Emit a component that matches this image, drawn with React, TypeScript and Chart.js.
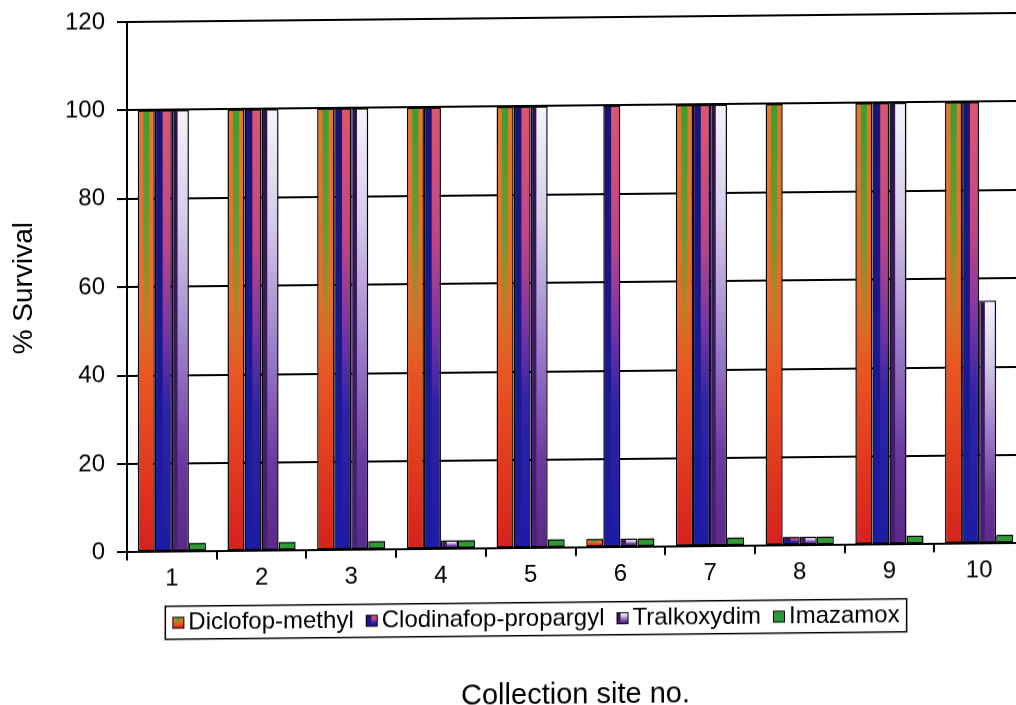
import React, { useEffect, useRef } from 'react';
import { Chart, registerables } from 'chart.js';

Chart.register(...registerables);

// Survival (%) of each collection site after each herbicide treatment
const sites = ['1', '2', '3', '4', '5', '6', '7', '8', '9', '10'];
const diclofopMethyl = [100, 100, 100, 100, 100, 2, 100, 100, 100, 100];
const clodinafopPropargyl = [100, 100, 100, 100, 100, 100, 100, 2, 100, 100];
const tralkoxydim = [100, 100, 100, 2, 100, 2, 100, 2, 100, 55];
const imazamox = [2, 2, 2, 2, 2, 2, 2, 2, 2, 2];
const seriesNames = ['Diclofop-methyl', 'Clodinafop-propargyl', 'Tralkoxydim', 'Imazamox'];
const yMin = 0;
const yMax = 120;
const yStep = 20;

const FONT = '"Liberation Sans", Arial, sans-serif';
const LEGEND_SHIFT_X = 24;

type Painter = (ctx: CanvasRenderingContext2D, l: number, t: number, w: number, h: number) => void;

const paintDiclofop: Painter = (ctx, l, t, w, h) => {
  const g = ctx.createLinearGradient(0, t, 0, t + h);
  g.addColorStop(0, '#e3782c');
  g.addColorStop(0.45, '#ee6a24');
  g.addColorStop(0.75, '#e4421f');
  g.addColorStop(1, '#d6221d');
  ctx.fillStyle = g;
  ctx.fillRect(l, t, w, h);
  const s = ctx.createLinearGradient(0, t, 0, t + h);
  s.addColorStop(0, 'rgba(60,158,48,1)');
  s.addColorStop(0.3, 'rgba(92,160,50,0.85)');
  s.addColorStop(0.6, 'rgba(130,150,50,0)');
  ctx.fillStyle = s;
  ctx.fillRect(l + w * 0.28, t, w * 0.44, h);
};

const paintClodinafop: Painter = (ctx, l, t, w, h) => {
  const g = ctx.createLinearGradient(0, t, 0, t + h);
  g.addColorStop(0, '#dc5670');
  g.addColorStop(0.3, '#c04486');
  g.addColorStop(0.5, '#7a34a4');
  g.addColorStop(0.68, '#2e22a6');
  g.addColorStop(1, '#1c1ca4');
  ctx.fillStyle = g;
  ctx.fillRect(l, t, w, h);
  const s = ctx.createLinearGradient(0, t, 0, t + h);
  s.addColorStop(0, '#181472');
  s.addColorStop(1, '#1c1ca4');
  ctx.fillStyle = s;
  ctx.fillRect(l, t, w * 0.45, h);
};

const paintTralkoxydim: Painter = (ctx, l, t, w, h) => {
  const g = ctx.createLinearGradient(0, t, 0, t + h);
  g.addColorStop(0, '#f5f3fb');
  g.addColorStop(0.25, '#d6cbe8');
  g.addColorStop(0.55, '#9a7cc8');
  g.addColorStop(0.8, '#6a3a9e');
  g.addColorStop(1, '#5a2a88');
  ctx.fillStyle = g;
  ctx.fillRect(l, t, w, h);
  const s = ctx.createLinearGradient(0, t, 0, t + h);
  s.addColorStop(0, '#2c1048');
  s.addColorStop(1, '#4a2078');
  ctx.fillStyle = s;
  ctx.fillRect(l, t, w * 0.3, h);
};

const paintImazamox: Painter = (ctx, l, t, w, h) => {
  ctx.fillStyle = '#2f9a36';
  ctx.fillRect(l, t, w, h);
};

const painters: Painter[] = [paintDiclofop, paintClodinafop, paintTralkoxydim, paintImazamox];
const baseColors = ['#e4521f', '#3a24a0', '#8a68c0', '#2f9a36'];

// Small square swatch for the legend, shifted right inside its canvas
function makeSwatch(paint: Painter): HTMLCanvasElement {
  const c = document.createElement('canvas');
  c.width = 24;
  c.height = 14;
  const ctx = c.getContext('2d') as CanvasRenderingContext2D;
  ctx.fillStyle = '#000';
  ctx.fillRect(10, 1, 12, 12);
  paint(ctx, 11, 2, 10, 10);
  return c;
}

const gradientBars = {
  id: 'gradientBars',
  afterDatasetsDraw(chart: any) {
    const ctx: CanvasRenderingContext2D = chart.ctx;
    const area = chart.chartArea;
    ctx.save();
    ctx.beginPath();
    ctx.rect(area.left, area.top, area.right - area.left, area.bottom - area.top);
    ctx.clip();
    chart.data.datasets.forEach((_: any, i: number) => {
      const meta = chart.getDatasetMeta(i);
      if (meta.hidden) return;
      const bw = 1.5;
      meta.data.forEach((el: any) => {
        const p = el.getProps(['x', 'y', 'base', 'width'], true);
        const l = p.x - p.width / 2 + bw;
        const top = Math.min(p.y, p.base) + bw;
        const w = p.width - bw * 2;
        const h = Math.abs(p.base - p.y) - bw * 2;
        if (w > 0 && h > 0) painters[i](ctx, l, top, w, h);
      });
    });
    ctx.restore();
  },
};

// Moves the legend block sideways and frames its items with a thin box
const legendFrame = {
  id: 'legendFrame',
  afterLayout(chart: any) {
    const lg = chart.legend;
    if (!lg) return;
    lg.left += LEGEND_SHIFT_X;
    lg.right += LEGEND_SHIFT_X;
  },
  afterDraw(chart: any) {
    const lg = chart.legend;
    if (!lg || !lg.legendHitBoxes || !lg.legendHitBoxes.length) return;
    const hb = lg.legendHitBoxes;
    const first = hb[0];
    const last = hb[hb.length - 1];
    const left = first.left - 7;
    const right = last.left + last.width + 7;
    const cy = first.top + first.height / 2;
    const ctx: CanvasRenderingContext2D = chart.ctx;
    ctx.save();
    ctx.strokeStyle = '#000';
    ctx.lineWidth = 1.5;
    ctx.strokeRect(left, cy - 16.5, right - left, 33);
    ctx.restore();
  },
};

export default function App() {
  const ref = useRef<HTMLCanvasElement>(null);

  useEffect(() => {
    if (!ref.current) return;
    const swatches = painters.map((p) => makeSwatch(p));
    const values = [diclofopMethyl, clodinafopPropargyl, tralkoxydim, imazamox];
    const chart = new Chart(ref.current, {
      type: 'bar',
      data: {
        labels: sites,
        datasets: seriesNames.map((name, i) => ({
          label: name,
          data: values[i],
          backgroundColor: baseColors[i],
          borderColor: '#000',
          borderWidth: 1.5,
          borderSkipped: false,
          barPercentage: 1,
          categoryPercentage: 0.76,
        })),
      },
      options: {
        animation: false,
        responsive: false,
        devicePixelRatio: 1,
        layout: { padding: { left: 0, top: 22, right: 50, bottom: 0 } },
        plugins: {
          tooltip: { enabled: false },
          legend: {
            display: true,
            position: 'bottom',
            labels: {
              color: '#000',
              font: { family: FONT, size: 24 },
              usePointStyle: true,
              pointStyleWidth: 4,
              padding: 12,
              generateLabels: (c: any) => {
                const items = Chart.defaults.plugins.legend.labels.generateLabels(c);
                return items.map((it: any, i: number) => ({ ...it, pointStyle: swatches[i] }));
              },
            },
          },
          title: {
            display: true,
            position: 'bottom',
            fullSize: false,
            text: 'Collection site no.',
            color: '#000',
            font: { family: FONT, size: 29, weight: 'normal' },
            padding: { top: 37, bottom: 0 },
          },
        },
        scales: {
          x: {
            grid: {
              display: true,
              drawOnChartArea: false,
              drawTicks: true,
              tickLength: 8,
              color: '#000',
              lineWidth: 2,
              offset: true,
            },
            border: { display: true, color: '#000', width: 2 },
            ticks: { color: '#000', font: { family: FONT, size: 24 }, padding: 5, maxRotation: 0 },
          },
          y: {
            min: yMin,
            max: yMax,
            ticks: { stepSize: yStep, color: '#000', font: { family: FONT, size: 24 }, padding: 12 },
            grid: { color: '#000', lineWidth: 2, drawTicks: true, tickLength: 10 },
            border: { display: true, color: '#000', width: 2 },
            title: {
              display: true,
              text: '% Survival',
              color: '#000',
              font: { family: FONT, size: 28 },
              padding: { top: 7, bottom: 0 },
            },
            afterFit: (scale: any) => {
              scale.width = 127;
              scale.paddingTop = 0;
              scale.paddingBottom = 0;
            },
          },
        },
      },
      plugins: [gradientBars, legendFrame],
    } as any);
    return () => chart.destroy();
  }, []);

  return (
    <div
      style={{
        position: 'fixed',
        left: 0,
        top: 0,
        width: 1016,
        height: 705,
        overflow: 'hidden',
        background: '#fff',
      }}
    >
      <div style={{ transform: 'skewY(-0.58deg)', transformOrigin: '127px 0' }}>
        <canvas ref={ref} width={1074} height={717} style={{ display: 'block' }} />
      </div>
    </div>
  );
}
